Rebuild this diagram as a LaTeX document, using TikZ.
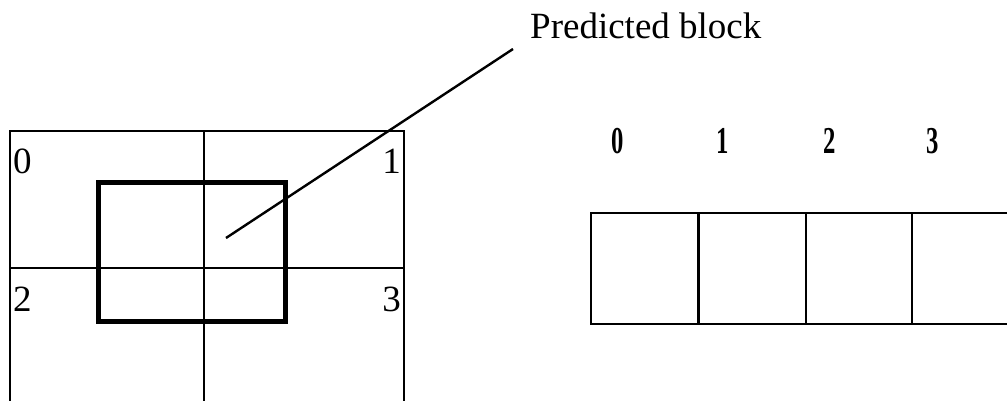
\documentclass[tikz,border=0pt]{standalone}
\usepackage{fontspec}
\setmainfont{Liberation Serif}
\begin{document}
\begin{tikzpicture}[x=1pt,y=-1pt,
  gridline/.style={draw=black, line width=2pt},
  thickbox/.style={draw=black, line width=5pt, inner sep=0pt, minimum width=187pt, minimum height=139pt},
  celllabel/.style={font=\fontsize{37}{37}\selectfont, inner sep=0pt},
  idxlabel/.style={font=\bfseries\fontsize{38}{38}\selectfont, inner sep=0pt, xscale=0.65},
  cell/.style={draw=black, line width=2.2pt, inner sep=0pt, minimum width=107pt, minimum height=111pt, anchor=north west}]
\useasboundingbox (0,0) rectangle (1007,400);
% left grid
\coordinate (gbl) at (10,402);
\coordinate (gtl) at (10,131);
\coordinate (gtr) at (404,131);
\coordinate (gbr) at (404,402);
\coordinate (gmt) at (204,131);
\coordinate (gmb) at (204,402);
\coordinate (gml) at (10,268);
\coordinate (gmr) at (404,268);
\draw[gridline] (gbl) -- (gtl) -- (gtr) -- (gbr);
\draw[gridline] (gmt) -- (gmb);
\draw[gridline] (gml) -- (gmr);
\node[celllabel, anchor=base west] (l0) at (13,173) {0};
\node[celllabel, anchor=base east] (l1) at (401,173) {1};
\node[celllabel, anchor=base west] (l2) at (13,311) {2};
\node[celllabel, anchor=base east] (l3) at (401,311) {3};
% predicted block
\node[thickbox] (pb) at (191.5,252) {};
\coordinate (pbc) at (226,238);
\node[font=\fontsize{37}{37}\selectfont, inner sep=0pt, anchor=base west] (lab) at (530,38) {Predicted block};
\coordinate (labend) at (513,49);
\draw[line width=2.4pt] (pbc) -- (labend);
% right row
\node[cell] (c0) at (590,212) {};
\node[cell] (c1) at (698,212) {};
\node[cell, minimum width=106pt] (c2) at (805,212) {};
\node[cell] (c3) at (911,212) {};
\node[idxlabel, anchor=base] (i0) at (618,153) {0};
\node[idxlabel, anchor=base] (i1) at (723,153) {1};
\node[idxlabel, anchor=base] (i2) at (830,153) {2};
\node[idxlabel, anchor=base] (i3) at (933,153) {3};
\end{tikzpicture}
\end{document}
